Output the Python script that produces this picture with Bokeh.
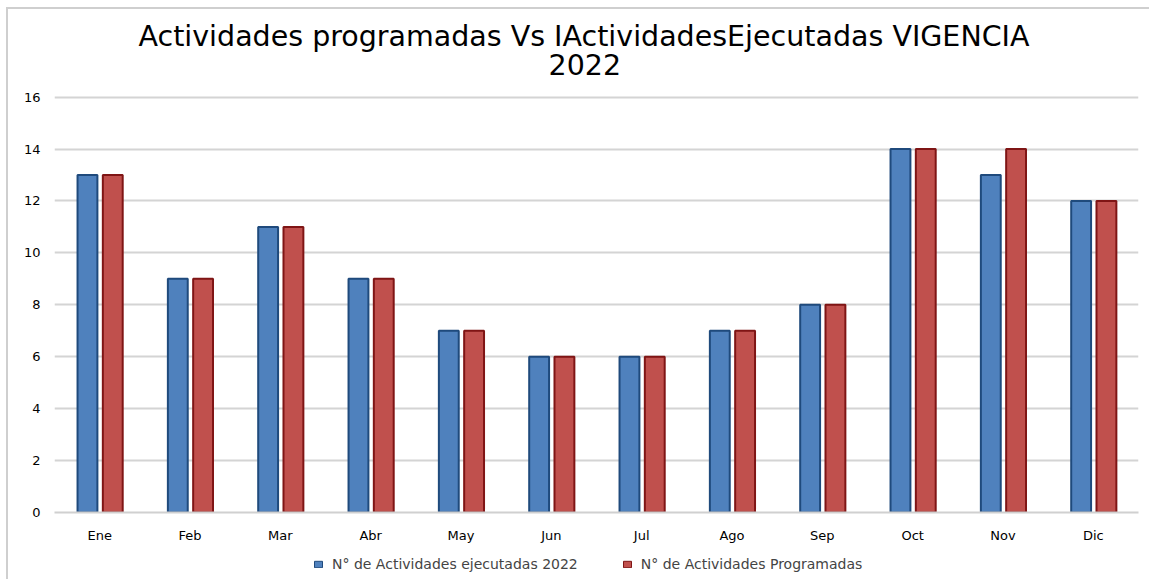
from bokeh.plotting import figure
from bokeh.models import ColumnDataSource, Legend, LegendItem, FactorRange, Title
from bokeh.layouts import column
from bokeh.transform import dodge
from bokeh.embed import file_html
from bokeh.resources import INLINE

months = ["Ene", "Feb", "Mar", "Abr", "May", "Jun", "Jul", "Ago", "Sep", "Oct", "Nov", "Dic"]
ejecutadas = [13, 9, 11, 9, 7, 6, 6, 7, 8, 14, 13, 12]
programadas = [13, 9, 11, 9, 7, 6, 6, 7, 8, 14, 14, 12]
y_ticks = [0, 2, 4, 6, 8, 10, 12, 14, 16]
label_ej = "N° de Actividades ejecutadas 2022"
label_pr = "N° de Actividades Programadas"
title_line1 = "Actividades programadas Vs IActividadesEjecutadas VIGENCIA"
title_line2 = "2022"

BLUE, BLUE_D = "#4F81BD", "#1F4A7C"
RED, RED_D = "#C0504D", "#7F1515"

src = ColumnDataSource(dict(m=months, ej=ejecutadas, pr=programadas))

p = figure(x_range=FactorRange(*months, range_padding=0, group_padding=0), y_range=(0, 16.1),
           width=1149, height=545, output_backend="svg", toolbar_location=None,
           min_border_left=54, min_border_right=11, min_border_bottom=25, min_border_top=94)
p.border_fill_color = None
p.background_fill_color = None
p.title.text = title_line1
p.title.align = "left"
p.title.offset = 84
p.title.text_font = "DejaVu Sans"
p.title.text_font_size = "28.5px"
p.title.text_font_style = "normal"
p.title.text_color = "#000000"
p.title.standoff = -3

# small spacer panel between the frame and the second title line
spacer = Title(text=" ", text_font_size="1px", standoff=17, text_color="#ffffff")
p.add_layout(spacer, "above")
t2 = Title(text=title_line2, align="left", offset=494, text_font="DejaVu Sans",
           text_font_size="28.5px", text_font_style="normal", text_color="#000000", standoff=0)
p.add_layout(t2, "above")

p.vbar(x=dodge("m", -0.135, range=p.x_range), top="ej", width=0.22, source=src,
       fill_color=BLUE, line_color=BLUE_D, line_width=2)
p.vbar(x=dodge("m", 0.145, range=p.x_range), top="pr", width=0.22, source=src,
       fill_color=RED, line_color=RED_D, line_width=2)

p.outline_line_color = None
p.xgrid.grid_line_color = None
p.ygrid.grid_line_color = "#d4d4d4"
p.ygrid.grid_line_width = 2
p.yaxis.ticker = y_ticks
p.yaxis.axis_line_color = None
p.yaxis.major_tick_line_color = None
p.yaxis.minor_tick_line_color = None
p.yaxis.major_label_text_font = "DejaVu Sans"
p.yaxis.major_label_text_font_size = "13px"
p.yaxis.major_label_text_color = "#000000"
p.yaxis.major_label_standoff = 8
p.xaxis.axis_line_color = "#d0d0d0"
p.xaxis.axis_line_width = 2
p.xaxis.major_tick_line_color = None
p.xaxis.minor_tick_line_color = None
p.xaxis.major_label_text_font = "DejaVu Sans"
p.xaxis.major_label_text_font_size = "13px"
p.xaxis.major_label_text_color = "#000000"
p.xaxis.major_label_standoff = 9

# legend strip below the chart
q = figure(x_range=(0, 1), y_range=(0, 1), width=1149, height=34, output_backend="svg",
           toolbar_location=None, min_border=0, min_border_left=54, min_border_right=11,
           min_border_top=0, min_border_bottom=0)
q.axis.visible = False
q.grid.visible = False
q.outline_line_color = None
q.border_fill_color = None
q.background_fill_color = None
offscreen = ColumnDataSource(dict(x=[-50], top=[-50], bottom=[-60]))
l1 = q.vbar(x="x", top="top", bottom="bottom", width=0.1, source=offscreen,
            fill_color=BLUE, line_color=BLUE_D)
l2 = q.vbar(x="x", top="top", bottom="bottom", width=0.1, source=offscreen,
            fill_color=RED, line_color=RED_D)
legend = Legend(items=[LegendItem(label=label_ej, renderers=[l1]),
                       LegendItem(label=label_pr, renderers=[l2])],
                orientation="horizontal", location=(259, 7),
                label_text_font="DejaVu Sans", label_text_font_size="14px",
                glyph_width=10, glyph_height=8, spacing=44, label_standoff=9,
                border_line_color=None, background_fill_alpha=0, padding=0, margin=0)
q.add_layout(legend, "center")

layout = column(p, q, spacing=0)
layout.styles = {
    "background": "linear-gradient(#cfcfcf,#cfcfcf) 6px 7px / 2px 100% no-repeat, "
                  "linear-gradient(#cfcfcf,#cfcfcf) 6px 7px / 100% 2px no-repeat, #ffffff"
}

open("out.html", "w").write(file_html(layout, INLINE))
